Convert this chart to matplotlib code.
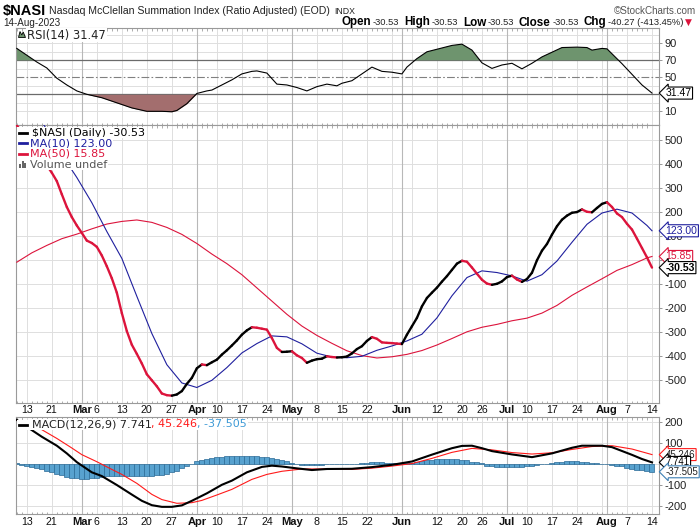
import numpy as np
import pandas as pd
import matplotlib
matplotlib.use("Agg")
import matplotlib.pyplot as plt
import matplotlib.transforms as mtransforms
from matplotlib import font_manager
from matplotlib.collections import LineCollection
from matplotlib.lines import Line2D
from matplotlib.patches import Rectangle, Polygon

# trading days on the chart (US market holidays removed)
holidays = ["2023-02-20", "2023-04-07", "2023-05-29", "2023-06-19", "2023-07-04"]
trade_days = pd.bdate_range("2023-02-09", "2023-08-14")
trade_days = trade_days[~trade_days.isin(pd.to_datetime(holidays))]

# $NASI daily close (one value per trading day)
nasi = [562, 535, 505, 475, 445, 420, 395, 365, 330, 275,
        222, 180, 145, 114, 82, 72, 56, 20, -25, -75,
        -135, -220, -295, -352, -390, -430, -475, -500, -525, -555,
        -562, -564, -559, -545, -515, -490, -450, -434, -437, -425,
        -414, -393, -375, -355, -334, -310, -292, -279, -281, -285,
        -289, -324, -365, -382, -381, -379, -396, -407, -427, -418,
        -412, -410, -400, -403, -405, -404, -401, -388, -370, -358,
        -336, -320, -327, -342, -344, -345, -347, -349, -310, -275,
        -240, -192, -157, -135, -114, -89, -66, -40, -14, -2,
        -6, -30, -56, -81, -97, -102, -98, -88, -70, -64,
        -80, -90, -78, -52, 0, 40, 68, 107, 142, 169,
        186, 198, 201, 212, 202, 200, 218, 235, 242, 222,
        195, 180, 152, 128, 90, 51, 12, -30.53]

# moving averages (read at sample days, index into trade_days)
ma10_idx = [0, 3, 6, 9, 12, 15, 18, 21, 24, 27, 30, 33, 36, 39, 42, 45, 48, 51, 54, 57, 60, 63,
            66, 69, 72, 75, 78, 81, 84, 87, 90, 93, 96, 99, 102, 105, 108, 111, 114, 117, 120, 123, 126, 127]
ma10 = [720, 640, 545, 440, 345, 240, 120, 8, -150, -305,
        -435, -511, -530, -500, -447, -386, -347, -315, -319, -348,
        -387, -403, -406, -400, -375, -357, -336, -308, -240, -148,
        -72, -44, -51, -65, -87, -60, -3, 75, 150, 197,
        213, 197, 145, 123.00]
ma50_idx = ma10_idx
ma50 = [-8, 31, 62, 90, 109, 131, 151, 162, 168, 158,
        137, 108, 70, 26, -14, -60, -115, -170, -225, -274,
        -313, -346, -377, -397, -407, -402, -392, -376, -353, -326,
        -298, -279, -267, -252, -241, -220, -188, -146, -111, -77,
        -42, -18, 10, 15.85]

# RSI(14)
rsi_idx = [0, 2, 4, 6, 8, 10, 12, 14, 17, 19, 23, 26, 29, 31, 32, 34, 36, 38, 39, 41,
           43, 45, 47, 48, 50, 52, 54, 56, 58, 60, 62, 64, 65, 67, 69, 71, 73, 75, 77, 78,
           80, 82, 84, 87, 89, 91, 93, 95, 97, 99, 101, 103, 105, 107, 109, 112, 114, 115, 117, 118,
           121, 123, 125, 127]
rsi = [84, 76, 68, 61, 49, 41, 34, 30, 26, 22, 14, 10, 10, 9.5, 11, 19, 31, 34, 35, 41,
       47, 54, 57, 57.5, 55, 42, 41, 38, 34, 39, 42, 40, 43, 46, 54, 62, 57, 56, 54, 62,
       72, 80, 83, 87.5, 89, 82, 67, 60.5, 64.5, 66.5, 60, 66.5, 74, 79.5, 85, 85.5, 85, 82, 84, 83.5,
       66, 53.5, 41, 31.47]

# MACD(12,26,9)
macd_idx = [0, 3, 5, 8, 10, 12, 15, 17, 20, 23, 25, 27, 29, 31, 33, 35, 38, 41, 43, 46,
            49, 51, 53, 56, 59, 62, 67, 71, 75, 79, 83, 87, 89, 91, 93, 95, 99, 103, 107, 111,
            113, 117, 119, 123, 125, 127]
macd = [212, 163, 131, 88, 51, 9, -40, -58, -101, -147, -177, -198, -206, -206, -199, -177, -141, -100, -80, -40,
        -14, -8, -12, -21, -29, -24, -23, -15, -4, 12, 45, 76, 87, 88, 76, 62, 46, 33, 51, 78,
        88, 88, 81, 44, 24, 7.741]
sig_idx = [0, 3, 5, 8, 11, 13, 16, 19, 21, 24, 27, 29, 32, 35, 37, 40, 43, 47, 50, 53,
           57, 60, 63, 67, 71, 75, 79, 83, 87, 91, 95, 99, 103, 107, 111, 115, 119, 123, 127]
signal = [210, 190, 165, 123, 77, 45, 11, -26, -50, -93, -146, -171, -189, -186, -175, -149, -122, -74, -50, -35,
          -24, -24, -23, -26, -20, -10, 2, 27, 56, 75, 68, 55, 48, 54, 70, 84, 88, 72, 45.246]
hist = [4, -5, -10, -16, -20, -24, -32, -39, -47, -55,
        -61, -66, -69, -70, -70, -69, -65, -61, -60, -59,
        -59, -59, -58, -58, -58, -58, -58, -58, -55, -52,
        -46, -38, -32, -21, -10, 2, 14, 20, 24, 28,
        32, 35, 37, 38, 38, 38, 38, 38, 38, 35,
        32, 28, 24, 18, 13, 5, 0, -3, -4, -5,
        -4, -3, -2, 0, 1, 1, 1, 1, 2, 4,
        7, 10, 11, 8, 4, 3, 3, 3, 4, 5,
        9, 13, 17, 21, 24, 25, 25, 24, 23, 21,
        17, 10, 8, 3, -8, -11, -13, -15, -16, -16,
        -16, -14, -11, -8, -5, -2, 1, 4, 8, 11,
        13, 14, 13, 11, 8, 6, 3, 1, -1, -4,
        -8, -12, -17, -22, -27, -31, -34, -37.505]

# x axis labels
tick_dates = ["2023-02-13", "2023-02-21", "2023-03-01", "2023-03-06", "2023-03-13", "2023-03-20", "2023-03-27",
              "2023-04-03", "2023-04-10", "2023-04-17", "2023-04-24", "2023-05-01", "2023-05-08", "2023-05-15",
              "2023-05-22", "2023-06-01", "2023-06-12", "2023-06-20", "2023-06-26", "2023-07-03", "2023-07-10",
              "2023-07-17", "2023-07-24", "2023-08-01", "2023-08-07", "2023-08-14"]
tick_labels = ["13", "21", "Mar", "6", "13", "20", "27", "Apr", "10", "17", "24", "May", "8", "15", "22",
               "Jun", "12", "20", "26", "Jul", "10", "17", "24", "Aug", "7", "14"]
month_names = ["Mar", "Apr", "May", "Jun", "Jul", "Aug"]

# fonts
installed = {f.name for f in font_manager.fontManager.ttflist}
HAS_NARROW = "Liberation Sans Narrow" in installed
NARROW = "Liberation Sans Narrow" if HAS_NARROW else "Liberation Sans"
NS = 1.0 if HAS_NARROW else 0.84   # shrink if the narrow face is missing
SANS = "Liberation Sans"
VERD = "DejaVu Sans"

CRIMSON = "#dc143c"
NAVY = "#1f1f9e"
GRID = "#dedede"
MGRID = "#b8b8b8"

W, H = 700, 530
fig = plt.figure(figsize=(7, 5.3), dpi=100)
fig.patch.set_facecolor("white")


def fx(px):
    return px / W


def fy(py):
    return 1 - py / H


L, R = 16.3, 659.0


def panel(top, bottom):
    return fig.add_axes([fx(L), fy(bottom), (R - L) / W, (bottom - top) / H])


ax_rsi = panel(28, 124.5)
ax_main = panel(124.5, 403)
ax_macd = panel(417, 514)

x = np.arange(len(trade_days))
pos = pd.Series(x, index=trade_days)
week_first = pos.groupby(trade_days.to_period("W")).min().values
month_first = pos.groupby(trade_days.to_period("M")).min().values
week_first = [w for w in week_first if w > 0]
month_first = [m for m in month_first if m > 0]
tick_pos = trade_days.get_indexer(pd.to_datetime(tick_dates))


def style(ax, ylim, yticks, hgrid, show_x):
    ax.set_xlim(-0.1, 128.4)
    ax.set_ylim(*ylim)
    for s in ax.spines.values():
        s.set_color("#9a9a9a")
        s.set_linewidth(0.8)
    for g in hgrid:
        ax.axhline(g, color=GRID, lw=0.7, zorder=0)
    for d in week_first:
        ax.axvline(d, color=GRID, lw=0.7, zorder=0)
    for d in month_first:
        ax.axvline(d, color=MGRID, lw=0.8, zorder=0)
    ax.yaxis.tick_right()
    ax.set_yticks(yticks)
    ax.set_yticklabels([f"{t:g}" for t in yticks], fontfamily=SANS)
    ax.tick_params(axis="y", which="major", length=2.5, width=0.6, color="#888888",
                   pad=1.5, labelsize=8, labelcolor="#222222")
    ax.set_xticks(x, minor=True)
    ax.tick_params(axis="x", which="minor", length=1.8, direction="in", width=0.6,
                   color="#a0a0a0", top=True, bottom=True)
    ax.set_xticks(tick_pos)
    if show_x:
        ax.set_xticklabels(tick_labels, fontfamily=NARROW)
        for lab in ax.get_xticklabels():
            if lab.get_text() in month_names:
                lab.set_fontweight("bold")
                lab.set_fontsize(9 * NS + 0.5)
            else:
                lab.set_fontsize(8.5 * NS + 0.5)
    else:
        ax.set_xticklabels([])
    ax.tick_params(axis="x", which="major", length=0, pad=1.2, labelcolor="#111111")


style(ax_rsi, (-5.5, 108), [10, 30, 50, 70, 90], [10, 20, 40, 60, 80, 90, 100], False)
style(ax_main, (-594.6, 565.8), list(range(-500, 501, 100)), range(-500, 501, 100), True)
style(ax_macd, (-240.4, 226), [-200, -100, 0, 100, 200], [-200, -100, 0, 100, 200], True)
ax_macd.tick_params(axis="x", which="major", pad=2.2)

# ---- RSI panel ----
rx = np.array(rsi_idx, dtype=float)
ry = np.array(rsi, dtype=float)
ax_rsi.axhline(70, color="#6b6b6b", lw=0.9, zorder=1)
ax_rsi.axhline(30, color="#6b6b6b", lw=0.9, zorder=1)
ax_rsi.axhline(50, color="#808080", lw=0.8, ls=(0, (7, 2, 1.5, 2)), zorder=1)
ax_rsi.fill_between(rx, ry, 70, where=ry >= 70, interpolate=True, color="#6e946e", lw=0, zorder=2)
ax_rsi.fill_between(rx, ry, 30, where=ry <= 30, interpolate=True, color="#a36e6e", lw=0, zorder=2)
ax_rsi.plot(rx, ry, color="black", lw=0.8, zorder=3)

# ---- price panel ----
ax_main.plot(ma50_idx, ma50, color=CRIMSON, lw=0.8, zorder=3)
ax_main.plot(ma10_idx, ma10, color=NAVY, lw=0.8, zorder=4)
ny = np.array(nasi, dtype=float)
segs = np.stack([np.column_stack([x[:-1], ny[:-1]]), np.column_stack([x[1:], ny[1:]])], axis=1)
cols = np.where(np.diff(ny) < 0, CRIMSON, "black")
ax_main.add_collection(LineCollection(segs, colors=cols, linewidths=1.7,
                                      capstyle="round", joinstyle="round", zorder=5))

# ---- MACD panel ----
ax_macd.bar(x, hist, width=1.0, color="#58a2cf", edgecolor="#2a6a96", linewidth=0.5, zorder=2)
ax_macd.plot(sig_idx, signal, color="#ff1a1a", lw=0.8, zorder=3)
ax_macd.plot(macd_idx, macd, color="black", lw=1.5, zorder=4)


# ---- value tags on the right edge ----
def tag(ax, val, text, color, bold=False, tcolor=None, fs=7.5):
    tr = mtransforms.blended_transform_factory(ax.transAxes, ax.transData)
    ax.text(1 + 6.5 / (R - L), val, text, transform=tr, ha="left", va="center",
            fontsize=fs, fontfamily=SANS, color=tcolor or color,
            fontweight="bold" if bold else "normal", clip_on=False, zorder=20,
            bbox=dict(boxstyle="larrow,pad=0.1", fc="white", ec=color, lw=0.8))


tag(ax_rsi, rsi[-1], f"{rsi[-1]:.2f}", "black")
tag(ax_main, ma10[-1], f"{ma10[-1]:.2f}", NAVY)
tag(ax_main, ma50[-1], f"{ma50[-1]:.2f}", CRIMSON)
tag(ax_main, nasi[-1], f"{nasi[-1]:.2f}", "black", bold=True)
tag(ax_macd, signal[-1], f"{signal[-1]:.3f}", "#ff1a1a", tcolor="#222222", fs=7)
tag(ax_macd, macd[-1], f"{macd[-1]:.3f}", "black", fs=7)
tag(ax_macd, hist[-1], f"{hist[-1]:.3f}", "#3d7fb3", tcolor="#222222", fs=7)

# ---- text drawn in pixel positions ----
renderer = fig.canvas.get_renderer()


def runs(xp, yp, parts, align="left"):
    objs = []
    for s, kw, gap in parts:
        t = fig.text(0, fy(yp), s, va="center", ha="left", zorder=30, **kw)
        objs.append((t, gap))
    widths = [t.get_window_extent(renderer).width + g for t, g in objs]
    cur = xp - sum(widths) if align == "right" else xp
    for (t, g), w in zip(objs, widths):
        t.set_x(fx(cur))
        cur += w
    return objs


hb = dict(fontfamily=NARROW, fontweight="bold", color="black")
hn = dict(fontfamily=NARROW, color="#222222")
runs(3, 11, [("$NASI", dict(hb, fontsize=12.5 * NS), 3),
             ("Nasdaq McClellan Summation Index (Ratio Adjusted) (EOD)", dict(hn, fontsize=9 * NS), 4),
             ("INDX", dict(hn, fontsize=7.5 * NS), 0)])
fig.text(fx(696), fy(11), "\u00a9StockCharts.com", ha="right", va="center",
         fontsize=8.5 * NS, fontfamily=NARROW, color="#555555")
fig.text(fx(3), fy(22.5), "14-Aug-2023", ha="left", va="center", fontsize=8.5 * NS,
         fontfamily=NARROW, color="#222222")
vb = dict(hb, fontsize=10 * NS)
vn = dict(hn, fontsize=8 * NS)
runs(692, 22.5, [("Open", vb, 1.5), ("-30.53", vn, 5), ("High", vb, 1.5), ("-30.53", vn, 5),
                 ("Low", vb, 1.5), ("-30.53", vn, 5), ("Close", vb, 1.5), ("-30.53", vn, 5),
                 ("Chg", vb, 1.5), ("-40.27 (-413.45%)", vn, 2),
                 ("\u25bc", dict(fontfamily=VERD, fontsize=6.5, color=CRIMSON), 0)], align="right")

# legend texts (white background hides the lines beneath)
lb = dict(fc="white", ec="none", pad=0.6)
leg = dict(fontfamily=VERD, fontsize=8)
fig.add_artist(Polygon([(fx(18.5), fy(37.5)), (fx(20), fy(31.5)), (fx(21.8), fy(35)),
                        (fx(23.2), fy(32)), (fx(25.5), fy(37.5))],
                       closed=True, transform=fig.transFigure, fc="#6e946e", ec="black", lw=0.6, zorder=31))
fig.text(fx(27), fy(35), "RSI(14) 31.47", ha="left", va="center", color="#222222",
         fontfamily=VERD, fontsize=8.3, zorder=30, bbox=lb)

# white block behind the legend markers of the price panel
fig.add_artist(Rectangle((fx(17.2), fy(169.5)), fx(32) - fx(17.2), fy(127) - fy(169.5),
                         transform=fig.transFigure, fc="white", ec="none", zorder=29))
main_leg = [(132.5, "$NASI (Daily) -30.53", "black", 31.5),
            (143.2, "MA(10) 123.00", NAVY, 29.5),
            (153.9, "MA(50) 15.85", CRIMSON, 29.5)]
for yp, s, c, xt in main_leg:
    fig.text(fx(xt), fy(yp), s, ha="left", va="center", color=c, zorder=30, bbox=lb, **leg)
    fig.add_artist(Line2D([fx(19), fx(27)], [fy(yp), fy(yp)], transform=fig.transFigure,
                          color=c, lw=2.0, zorder=31))
fig.text(fx(29.5), fy(164.6), "Volume undef", ha="left", va="center", color="#555555",
         zorder=30, bbox=lb, **leg)
for bx, bh in [(19, 4), (21.5, 6.5), (24, 5)]:
    fig.add_artist(Rectangle((fx(bx), fy(168)), 2.0 / W, bh / H, transform=fig.transFigure,
                             fc="#666666", ec="none", zorder=31))

fig.add_artist(Rectangle((fx(17.2), fy(429.5)), fx(31.5) - fx(17.2), fy(419.5) - fy(429.5),
                         transform=fig.transFigure, fc="white", ec="none", zorder=29))
fig.add_artist(Line2D([fx(19), fx(27)], [fy(424.5), fy(424.5)], transform=fig.transFigure,
                      color="black", lw=2.0, zorder=31))
runs(31.5, 424.5, [("MACD(12,26,9) 7.741", dict(leg, color="#222222", bbox=lb), 0),
                   (", 45.246", dict(leg, color="#ff1a1a", bbox=lb), 0),
                   (", -37.505", dict(leg, color="#3d9ad6", bbox=lb), 0)])

fig.savefig("out.png", dpi=100, facecolor="white")
